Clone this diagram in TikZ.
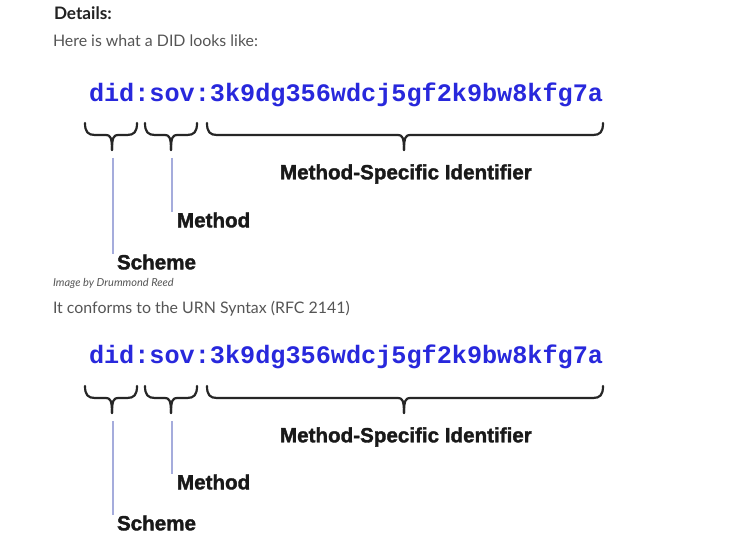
\documentclass[tikz,border=0pt]{standalone}
\usepackage{fontspec}
\setmainfont{Lato}
\newfontfamily\monob{Liberation Mono}
\newfontfamily\lblfont[BoldFeatures={FakeBold=1.6}]{Liberation Sans}
\definecolor{didblue}{RGB}{40,40,220}
\definecolor{leadblue}{RGB}{165,172,220}
\definecolor{bodygray}{RGB}{85,85,85}
\definecolor{headgray}{RGB}{34,34,34}
\newcommand\mybrace[4]{%
  \draw[bracestyle] (#1,#4) .. controls (#1,#4+9) and (#1+3,#4+12) .. (#1+10,#4+12) -- (#3-6,#4+12) .. controls (#3-2,#4+12) and (#3,#4+14) .. (#3,#4+27);
  \draw[bracestyle] (#2,#4) .. controls (#2,#4+9) and (#2-3,#4+12) .. (#2-10,#4+12) -- (#3+6,#4+12) .. controls (#3+2,#4+12) and (#3,#4+14) .. (#3,#4+27);}
\begin{document}
\begin{tikzpicture}[x=1pt,y=-1pt,
  txt/.style={anchor=west,inner sep=0pt,outer sep=0pt},
  head/.style={txt,font=\bfseries\fontsize{17.2}{20}\selectfont,text=headgray},
  body/.style={txt,font=\fontsize{15.9}{19}\selectfont,text=bodygray},
  caption/.style={txt,font=\itshape\fontsize{11}{13}\selectfont,text=bodygray},
  did/.style={txt,font=\monob\bfseries\fontsize{25.2}{28}\selectfont,text=didblue},
  lbl/.style={txt,font=\lblfont\bfseries\fontsize{20.6}{24}\selectfont,text=black!90},
  bracestyle/.style={line width=2.2pt,draw=black!85,line cap=round,line join=round},
  leader/.style={line width=1.4pt,draw=leadblue}]
\useasboundingbox (0,0) rectangle (754,540);
\fill[white] (0,0) rectangle (754,540);

\node[head] (details) at (54,13) {Details:};
\node[body] (intro) at (53,41) {Here is what a DID looks like:};

% first diagram
\node[did] (did1) at (89,95) {did:sov:3k9dg356wdcj5gf2k9bw8kfg7a};
\mybrace{85}{137}{112}{123}
\mybrace{145}{197}{171}{123}
\mybrace{207}{603}{404}{123}
\coordinate (s1top) at (113,158);
\coordinate (m1top) at (172,158);
\node[lbl] (msi1) at (280,174) {Method-Specific Identifier};
\node[lbl] (meth1) at (177,220) {Method};
\node[lbl] (sch1) at (117,262) {Scheme};
\draw[leader] (s1top) -- (s1top |- sch1.north);
\draw[leader] (m1top) -- (m1top |- meth1.north);

\node[caption] (cap) at (53,283) {Image by Drummond Reed};
\node[body] (urn) at (53,309) {It conforms to the URN Syntax (RFC 2141)};

% second diagram
\node[did] (did2) at (89,357) {did:sov:3k9dg356wdcj5gf2k9bw8kfg7a};
\mybrace{85}{137}{112}{386}
\mybrace{145}{197}{171}{386}
\mybrace{207}{603}{404}{386}
\coordinate (s2top) at (113,421);
\coordinate (m2top) at (172,421);
\node[lbl] (msi2) at (280,437) {Method-Specific Identifier};
\node[lbl] (meth2) at (177,482) {Method};
\node[lbl] (sch2) at (117,523) {Scheme};
\draw[leader] (s2top) -- (s2top |- sch2.north);
\draw[leader] (m2top) -- (m2top |- meth2.north);
\end{tikzpicture}
\end{document}
